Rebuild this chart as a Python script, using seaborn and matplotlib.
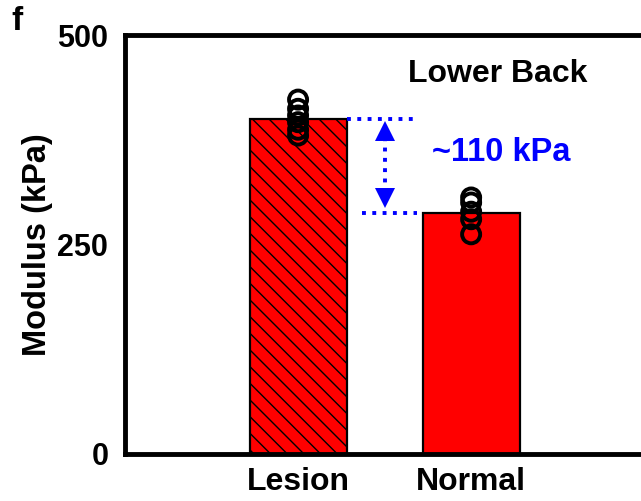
import pandas as pd
import seaborn as sns
import matplotlib.pyplot as plt

# values (kPa)
groups = ["Lesion", "Normal"]
lesion_vals = [423, 412, 404, 396, 387, 380]
normal_vals = [306, 300, 289, 280, 262]
y_ticks = [0, 250, 500]

df = pd.DataFrame({
    "group": ["Lesion"] * len(lesion_vals) + ["Normal"] * len(normal_vals),
    "modulus": lesion_vals + normal_vals,
})

sns.set_style("white")
plt.rcParams["font.family"] = ["Liberation Sans", "DejaVu Sans"]
plt.rcParams["font.weight"] = "bold"
plt.rcParams["hatch.linewidth"] = 1.0
for k in ["text.color", "axes.labelcolor", "xtick.color", "ytick.color"]:
    plt.rcParams[k] = "black"

fig = plt.figure(figsize=(6.41, 5.01), dpi=100)
ax = fig.add_axes([0.195, 0.0948, 0.864, 0.835])

sns.barplot(data=df, x="group", y="modulus", order=groups, color="red",
            saturation=1, errorbar=None, width=0.56, edgecolor="black",
            linewidth=1.6, ax=ax)
ax.patches[0].set_hatch("\\\\")

sns.stripplot(data=df, x="group", y="modulus", order=groups, jitter=False,
              marker="o", size=13, linewidth=2.8, edgecolor="black",
              facecolors="none", ax=ax)

# difference annotation
m_les = df[df.group == "Lesion"].modulus.mean()
m_nor = df[df.group == "Normal"].modulus.mean()
ax.plot([0.28, 0.69], [m_les, m_les], color="blue", ls=":", lw=2.8)
ax.plot([0.37, 0.69], [m_nor, m_nor], color="blue", ls=":", lw=2.8)
ax.plot([0.5, 0.5], [m_nor + 12, m_les - 12], color="blue", ls=":", lw=2.8)
ax.plot(0.5, m_les - 15, marker="^", color="blue", ms=15, mew=0)
ax.plot(0.5, m_nor + 18, marker="v", color="blue", ms=15, mew=0)
ax.text(0.775, 360, "~%d kPa" % round(m_les - m_nor, -1), color="blue",
        fontsize=23.5, fontweight="bold", va="center", ha="left")
ax.text(0.636, 453, "Lower Back", fontsize=23, fontweight="bold",
        va="center", ha="left")

ax.set_xlim(-1.0, 2.2)
ax.set_ylim(0, 500)
ax.set_yticks(y_ticks)
ax.set_xlabel("")
ax.set_ylabel("Modulus (kPa)", fontsize=23.5, fontweight="bold", labelpad=3)
ax.tick_params(axis="y", direction="in", length=5, width=3, pad=12, labelsize=22)
ax.tick_params(axis="x", length=0, pad=10, labelsize=23)
for lab in ax.get_xticklabels() + ax.get_yticklabels():
    lab.set_fontweight("bold")

for side in ["left", "top", "bottom"]:
    ax.spines[side].set_linewidth(3.5)
    ax.spines[side].set_color("black")
ax.spines["right"].set_visible(False)

fig.text(0.018, 0.958, "f", fontsize=24, fontweight="bold", va="center")

fig.savefig("out.png", dpi=100)
